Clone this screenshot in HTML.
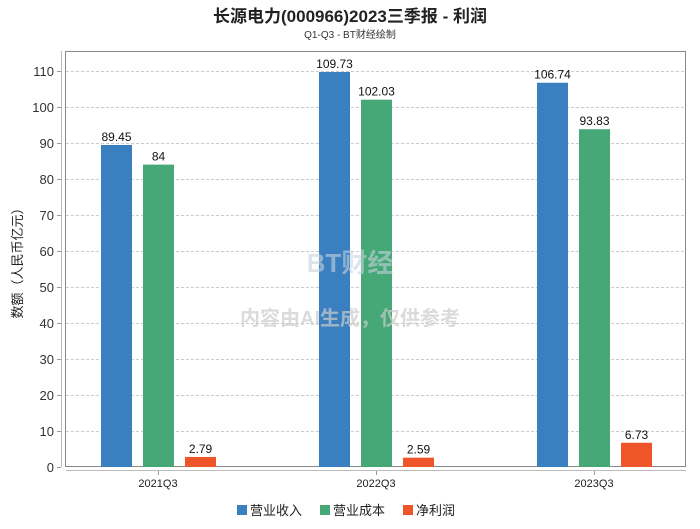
<!DOCTYPE html>
<html><head><meta charset="utf-8"><style>
body{margin:0;background:#fff;font-family:"Liberation Sans","Noto Sans CJK SC",sans-serif}
</style></head><body>
<svg width="700" height="524" xmlns="http://www.w3.org/2000/svg" style="font-family:'Liberation Sans','Noto Sans CJK SC',sans-serif">
<text x="350" y="22" text-anchor="middle" font-size="17" font-weight="bold" fill="#222">长源电力(000966)2023三季报 - 利润</text>
<text x="350" y="38" text-anchor="middle" font-size="10" fill="#333">Q1-Q3 - BT财经绘制</text>
<rect x="65.5" y="51.5" width="620" height="415" fill="none" stroke="#888"/>
<line x1="61.5" y1="51" x2="61.5" y2="467" stroke="#bbb"/>
<line x1="66" y1="470.5" x2="686" y2="470.5" stroke="#bbb"/>
<g id="grid"></g><g id="bars"></g><g id="labels"></g>
<text transform="translate(22,260) rotate(-90)" text-anchor="middle" font-size="13" fill="#222">数额（人民币亿元）</text>
<text x="350" y="272" text-anchor="middle" font-size="26" font-weight="bold" fill="#c8d3e0" opacity="0.6">BT财经</text>
<text x="350" y="325" text-anchor="middle" font-size="20" font-weight="bold" fill="#ccc" opacity="0.7">内容由AI生成，仅供参考</text>
<g>
<rect x="237" y="505" width="10" height="10" fill="#3a80c0"/>
<text x="250" y="515" font-size="13" fill="#222">营业收入</text>
<rect x="320" y="505" width="10" height="10" fill="#45a876"/>
<text x="333" y="515" font-size="13" fill="#222">营业成本</text>
<rect x="403" y="505" width="10" height="10" fill="#ee5629"/>
<text x="416" y="515" font-size="13" fill="#222">净利润</text>
</g>
</svg>
<script>
const categories=["2021Q3","2022Q3","2023Q3"];
const revenue=[89.45,109.73,106.74];
const cost=[84,102.03,93.83];
const profit=[2.79,2.59,6.73];
const yTicks=[0,10,20,30,40,50,60,70,80,90,100,110];
const NS="http://www.w3.org/2000/svg";
const y=v=>467-v*3.6;
const xc=i=>158+i*218;
const grid=document.getElementById('grid'),bars=document.getElementById('bars'),labels=document.getElementById('labels');
function mk(tag,attrs,parent,txt){const e=document.createElementNS(NS,tag);for(const k in attrs)e.setAttribute(k,attrs[k]);if(txt!==undefined)e.textContent=txt;parent.appendChild(e);return e;}
yTicks.forEach(t=>{
  if(t>0){const l=mk('line',{x1:66,x2:686,y1:y(t)+0.5,y2:y(t)+0.5,stroke:'#ccc','stroke-dasharray':'3,2'},grid);
  
  }
  const tk=mk('line',{x1:57,x2:61,y1:y(t)+0.5,y2:y(t)+0.5,stroke:'#999'},grid);
  
  
  const tx=mk('text',{x:54,y:y(t)+5,'text-anchor':'end','font-size':13,fill:'#333'},grid,String(t));
  
  
});
const series=[[revenue,'#3a80c0',-57,'revenue'],[cost,'#45a876',-15,'cost'],[profit,'#ee5629',27,'profit']];
categories.forEach((c,i)=>{
  const cl=mk('text',{x:xc(i),y:487,'text-anchor':'middle','font-size':11,fill:'#222'},labels,c);
  
  
  const tm=mk('line',{x1:xc(i)+0.5,x2:xc(i)+0.5,y1:471,y2:475,stroke:'#999'},labels);
  
  
  series.forEach(([arr,col,off,nm])=>{
    const v=arr[i];
    const r=mk('rect',{x:xc(i)+off,y:y(v),width:31,height:467-y(v),fill:col},bars);
    
    
    const t=mk('text',{x:xc(i)+off+15.5,y:y(v)-4,'text-anchor':'middle','font-size':12,fill:'#111'},labels,String(v));
    
    
  });
});
</script>
</body></html>
